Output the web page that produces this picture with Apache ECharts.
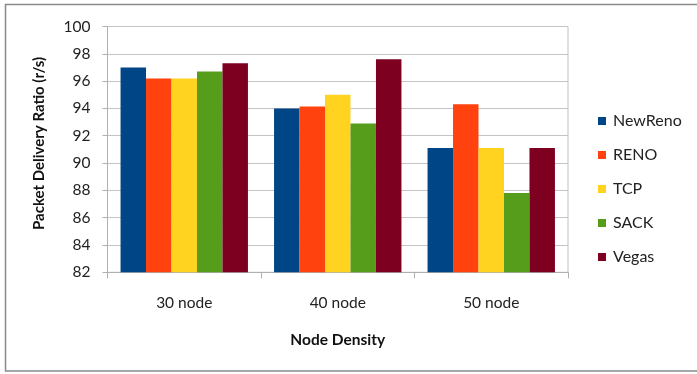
<!DOCTYPE html>
<html>
<head>
<meta charset="utf-8">
<script src="https://cdn.jsdelivr.net/npm/echarts@6/dist/echarts.min.js"></script>
<style>
  html, body { margin: 0; padding: 0; background: #fff; }
  #chart { width: 697px; height: 374px; }
</style>
</head>
<body>
<div id="chart"></div>
<script>
// Node densities on the x axis
const categories = ['30 node', '40 node', '50 node'];

// Packet delivery ratio per TCP variant
const newReno = [97.0, 94.0, 91.1];
const reno    = [96.2, 94.15, 94.3];
const tcp     = [96.2, 95.0, 91.1];
const sack    = [96.7, 92.9, 87.8];
const vegas   = [97.3, 97.6, 91.1];

const seriesNames = ['NewReno', 'RENO', 'TCP', 'SACK', 'Vegas'];
const seriesData = [newReno, reno, tcp, sack, vegas];
const colors = ['#004586', '#ff420e', '#ffd320', '#579d1c', '#7e0021'];

const FONT = 'Lato, "Open Sans", sans-serif';

const chart = echarts.init(document.getElementById('chart'), null, { renderer: 'canvas' });

chart.setOption({
  animation: false,
  backgroundColor: '#fff',
  color: colors,
  textStyle: { fontFamily: FONT },
  graphic: [{
    type: 'rect',
    shape: { x: 5.5, y: 4.5, width: 700, height: 366.5 },
    style: { fill: 'none', stroke: '#8a8a8a', lineWidth: 1.5 },
    silent: true
  }],
  grid: {
    left: 107.5, right: 129, top: 26.5, bottom: 101.7,
    show: true, borderColor: '#c0c0c0', borderWidth: 1
  },
  legend: {
    orient: 'vertical',
    left: 593, top: 108,
    itemWidth: 8, itemHeight: 8,
    itemGap: 18,
    icon: 'rect',
    textStyle: { fontSize: 16, color: '#222', fontFamily: FONT, lineHeight: 16, padding: [0, 0, 0, 2] },
    data: seriesNames
  },
  xAxis: {
    type: 'category',
    data: categories,
    name: 'Node Density',
    nameLocation: 'middle',
    nameGap: 60,
    nameTextStyle: { fontSize: 15.5, fontWeight: 'bold', color: '#111', fontFamily: FONT },
    axisLine: { lineStyle: { color: '#b0b0b0' } },
    axisTick: { show: true, length: 6, lineStyle: { color: '#b0b0b0' } },
    axisLabel: { fontSize: 15.5, color: '#222', margin: 23, fontFamily: FONT }
  },
  yAxis: {
    type: 'value',
    min: 82, max: 100, interval: 2,
    name: 'Packet Delivery Ratio (r/s)',
    nameLocation: 'middle',
    nameGap: 61,
    nameRotate: 90,
    nameTextStyle: { fontSize: 15, fontWeight: 'bold', color: '#111', fontFamily: FONT, padding: [0, 0, 0, 12] },
    axisLine: { show: true, lineStyle: { color: '#b0b0b0' } },
    axisTick: { show: true, length: 5, lineStyle: { color: '#b0b0b0' } },
    axisLabel: { fontSize: 15.5, color: '#222', margin: 17, fontFamily: FONT },
    splitLine: { lineStyle: { color: '#c4c4c4', width: 1 } }
  },
  series: seriesNames.map((name, i) => ({
    name: name,
    type: 'bar',
    data: seriesData[i],
    barGap: '0%',
    barCategoryGap: '17%',
    itemStyle: { color: colors[i] }
  }))
});
</script>
</body>
</html>
